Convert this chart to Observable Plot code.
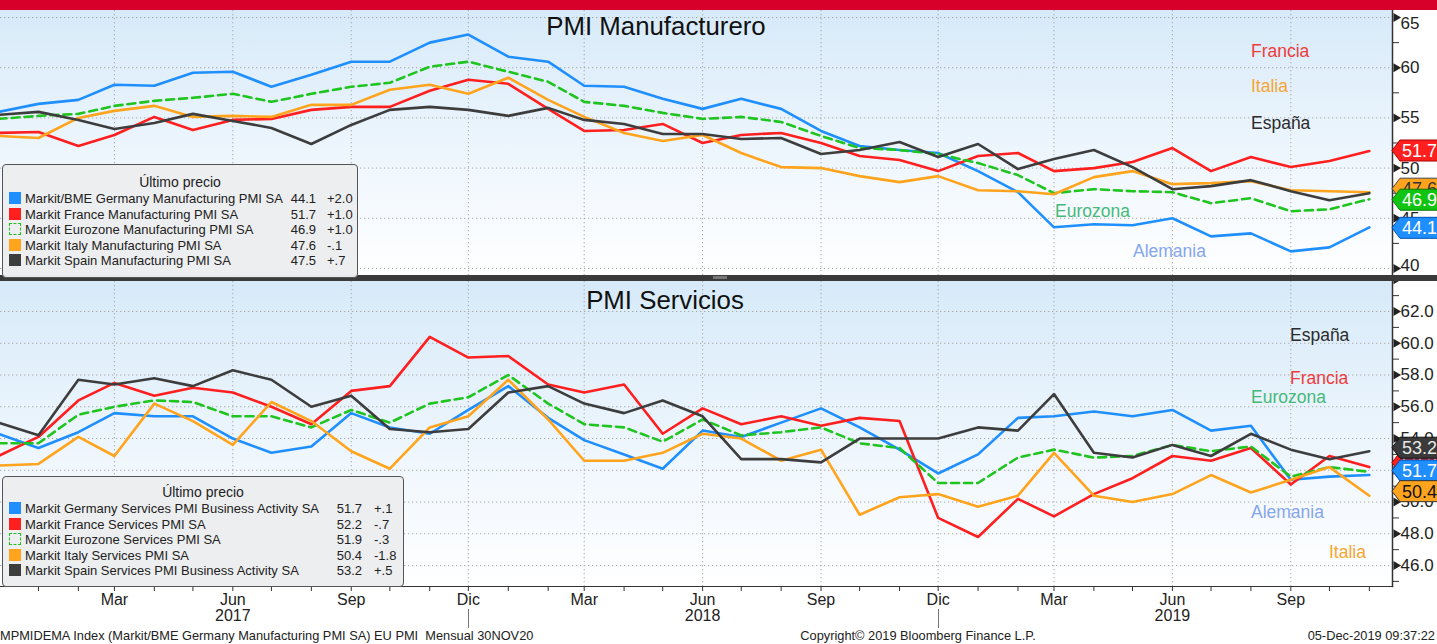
<!DOCTYPE html>
<html><head><meta charset="utf-8">
<script src="https://cdn.jsdelivr.net/npm/d3@7"></script>
<script src="https://cdn.jsdelivr.net/npm/@observablehq/plot@0.6"></script>
<style>
body{margin:0;background:#fff;}
#root{position:relative;width:1437px;height:644px;overflow:hidden;background:#fff;font-family:"Liberation Sans",Arial,sans-serif;color:#222;}
#root > *{position:absolute;}
.lbl{font-size:17.5px;white-space:nowrap;line-height:1;transform:translateY(-50%);}
.title{font-size:25.8px;white-space:nowrap;line-height:1;transform:translate(-50%,-50%);color:#111;}
.legend{background:rgba(236,237,238,0.97);border:1.5px solid #555;border-radius:4px;box-sizing:border-box;}
.legend div{position:absolute;white-space:nowrap;line-height:1;transform:translateY(-50%);font-size:13px;color:#222;}
.sw{width:12px;height:12px;box-sizing:border-box;}
.foot{font-size:12.8px;white-space:nowrap;line-height:1;color:#222;font-family:"Liberation Sans Narrow","Liberation Sans",Arial,sans-serif;}
</style></head><body><div id="root"></div>
<script>
// ---------- data ----------
const months = ["2016-12","2017-01","2017-02","2017-03","2017-04","2017-05","2017-06","2017-07","2017-08","2017-09","2017-10","2017-11","2017-12",
"2018-01","2018-02","2018-03","2018-04","2018-05","2018-06","2018-07","2018-08","2018-09","2018-10","2018-11","2018-12",
"2019-01","2019-02","2019-03","2019-04","2019-05","2019-06","2019-07","2019-08","2019-09","2019-10","2019-11"];
const monthNames = ["Ene","Feb","Mar","Abr","May","Jun","Jul","Ago","Sep","Oct","Nov","Dic"];

// PMI Manufacturero
const mfgGermany = [55.6,56.4,56.8,58.3,58.2,59.5,59.6,58.1,59.3,60.6,60.6,62.5,63.3,61.1,60.6,58.2,58.1,56.9,55.9,56.9,55.9,53.7,52.2,51.8,51.5,49.7,47.6,44.1,44.4,44.3,45.0,43.2,43.5,41.7,42.1,44.1];
const mfgFrance  = [53.5,53.6,52.2,53.3,55.1,53.8,54.8,54.9,55.8,56.1,56.1,57.7,58.8,58.4,55.9,53.7,53.8,54.4,52.5,53.3,53.5,52.5,51.2,50.8,49.7,51.2,51.5,49.7,50.0,50.6,52.0,49.7,51.1,50.1,50.7,51.7];
const mfgEurozone= [54.9,55.2,55.4,56.2,56.7,57.0,57.4,56.6,57.4,58.1,58.5,60.1,60.6,59.6,58.6,56.6,56.2,55.5,54.9,55.1,54.6,53.2,52.0,51.8,51.4,50.5,49.3,47.5,47.9,47.7,47.6,46.5,47.0,45.7,45.9,46.9];
const mfgItaly   = [53.2,53.0,55.0,55.7,56.2,55.1,55.2,55.1,56.3,56.3,57.8,58.3,57.4,59.0,56.8,55.1,53.5,52.7,53.3,51.5,50.1,50.0,49.2,48.6,49.2,47.8,47.7,47.4,49.1,49.7,48.4,48.5,48.7,47.8,47.7,47.6];
const mfgSpain   = [55.3,55.6,54.8,53.9,54.5,55.4,54.7,54.0,52.4,54.3,55.8,56.1,55.8,55.2,56.0,54.8,54.4,53.4,53.4,52.9,53.0,51.4,51.8,52.6,51.1,52.4,49.9,50.9,51.8,50.1,47.9,48.2,48.8,47.7,46.8,47.5];

// PMI Servicios
const svcGermany = [54.3,53.4,54.4,55.6,55.4,55.4,54.0,53.1,53.5,55.6,54.7,54.3,55.8,57.3,55.3,53.9,53.0,52.1,54.5,54.1,55.0,55.9,54.7,53.3,51.8,53.0,55.3,55.4,55.7,55.4,55.8,54.5,54.8,51.4,51.6,51.7];
const svcFrance  = [52.9,54.1,56.4,57.5,56.7,57.2,56.9,56.0,54.9,57.0,57.3,60.4,59.1,59.2,57.4,56.9,57.4,54.3,55.9,54.9,55.4,54.8,55.3,55.1,49.0,47.8,50.2,49.1,50.5,51.5,52.9,52.6,53.4,51.1,52.9,52.2];
const svcEurozone= [53.7,53.7,55.5,56.0,56.4,56.3,55.4,55.4,54.7,55.8,55.0,56.2,56.6,58.0,56.2,54.9,54.7,53.8,55.2,54.2,54.4,54.7,53.7,53.4,51.2,51.2,52.8,53.3,52.8,52.9,53.6,53.2,53.5,51.6,52.2,51.9];
const svcItaly   = [52.3,52.4,54.1,52.9,56.2,55.1,53.6,56.3,55.1,53.2,52.1,54.7,55.4,57.7,55.2,52.6,52.6,53.1,54.3,54.0,52.6,53.3,49.2,50.3,50.5,49.7,50.4,53.1,50.4,50.0,50.5,51.7,50.6,51.4,52.2,50.4];
const svcSpain   = [55.0,54.2,57.7,57.4,57.8,57.3,58.3,57.7,56.0,56.7,54.6,54.4,54.6,56.9,57.3,56.2,55.6,56.4,55.4,52.7,52.7,52.5,54.0,54.0,54.0,54.7,54.5,56.8,53.1,52.8,53.6,52.9,54.3,53.3,52.7,53.2];

const mfgNames = ["Markit/BME Germany Manufacturing PMI SA","Markit France Manufacturing PMI SA","Markit Eurozone Manufacturing PMI SA","Markit Italy Manufacturing PMI SA","Markit Spain Manufacturing PMI SA"];
const svcNames = ["Markit Germany Services PMI Business Activity SA","Markit France Services PMI SA","Markit Eurozone Services PMI SA","Markit Italy Services PMI SA","Markit Spain Services PMI Business Activity SA"];

const topTicks = [40,45,50,55,60,65];
const topMinorTicks = [42.5,47.5,52.5,57.5,62.5];
const botTicks = [46,48,50,52,54,56,58,60,62,64];
const botMinorTicks = [45,47,49,51,53,55,57,59,61,63];

// ---------- styles ----------
const colors = {de:"#1f8fff", fr:"#ff1f1f", ez:"#1fc41f", it:"#ffa41c", es:"#3d3d3d"};
const W = 1437, MR = 45;
const parse = m => new Date(m + "-01T00:00:00Z");
const dates = months.map(parse);
const xDomain = [new Date("2016-12-02T12:00:00Z"), new Date("2019-11-19T00:00:00Z")];
const inView = dates.filter(d => d >= xDomain[0]);
const quarterDates = inView.filter(d => d.getUTCMonth() % 3 === 2);
const junDates = inView.filter(d => d.getUTCMonth() === 5);
const decDates = inView.filter(d => d.getUTCMonth() === 11);

function makeSeries(arrs, names) {
  const keys = ["de","fr","ez","it","es"];
  return arrs.map((a, k) => ({key: keys[k], name: names[k], color: colors[keys[k]], dash: keys[k]==="ez",
    rows: a.map((v, i) => ({date: dates[i], value: v}))}));
}
const topSeries = makeSeries([mfgGermany,mfgFrance,mfgEurozone,mfgItaly,mfgSpain], mfgNames);
const botSeries = makeSeries([svcGermany,svcFrance,svcEurozone,svcItaly,svcSpain], svcNames);

const grid = {stroke:"#a9a9a9", strokeDasharray:"1.3,2.7", strokeWidth:1};
const lineMarks = S => S.map(s => Plot.line(s.rows, {x:"date", y:"value", stroke:s.color, strokeWidth:2.6,
  strokeDasharray: s.dash ? "8,5" : null}));

function yAxisMarks(major, minor, fmt) {
  return [
    Plot.frame({anchor:"right", stroke:"#333", strokeWidth:1.5}),
    Plot.axisY(minor, {anchor:"right", tickSize:6, tickFormat:() => "", stroke:"#333", label:null}),
    Plot.dot(major, {y:d => d, frameAnchor:"right", symbol:"triangle", rotate:90, r:3.3, fill:"#222", stroke:null, dx:3.5}),
    Plot.axisY(major, {anchor:"right", tickSize:0, tickPadding:8, fontSize:17, tickFormat:fmt, fill:"#222", label:null})
  ];
}

const root = document.getElementById("root");
function add(tag, cls, style, html) {
  const e = document.createElement(tag);
  if (cls) e.className = cls;
  Object.assign(e.style, style);
  if (html != null) e.innerHTML = html;
  root.appendChild(e);
  return e;
}

// panel backgrounds
const grad = "linear-gradient(to bottom, #d7eaf9 0%, #eef6fd 55%, #ffffff 100%)";
add("div", null, {left:"0px", top:"10px", width:(W-MR)+"px", height:"266px", background:grad});
add("div", null, {left:"0px", top:"281px", width:(W-MR)+"px", height:"305px", background:grad});

// ---------- top plot ----------
const topInner = topTicks.filter(d => d > 40 && d < 65);
const topEdges = [{v:65, dy:6}, {v:40, dy:-3}];
const topPlot = Plot.plot({
  width: W, height: 266, marginLeft: 0, marginRight: MR, marginTop: 0, marginBottom: 0,
  x: {type:"utc", domain: xDomain, axis: null},
  y: {domain: [39.2, 65.7]},
  style: {background:"transparent", fontFamily:"'Liberation Sans', Arial, sans-serif", color:"#222"},
  marks: [
    Plot.ruleX(quarterDates, grid),
    Plot.ruleY(topTicks, grid),
    ...lineMarks(topSeries),
    ...yAxisMarks(topTicks, topMinorTicks, d => (d === 65 || d === 40) ? "" : String(d)),
    ...topEdges.map(e => Plot.axisY([e.v], {anchor:"right", tickSize:0, tickPadding:8, fontSize:17, fill:"#222", dy:e.dy, label:null}))
  ]
});
topPlot.style.left = "0px"; topPlot.style.top = "10px";
root.appendChild(topPlot);

// ---------- bottom plot ----------
const botPlot = Plot.plot({
  width: W, height: 348, marginLeft: 0, marginRight: MR, marginTop: 1, marginBottom: 42,
  x: {type:"utc", domain: xDomain},
  y: {domain: [44.68, 63.89]},
  style: {background:"transparent", fontFamily:"'Liberation Sans', Arial, sans-serif", color:"#222"},
  marks: [
    Plot.ruleX(quarterDates, grid),
    Plot.ruleY(botTicks, grid),
    ...lineMarks(botSeries),
    ...yAxisMarks(botTicks, botMinorTicks, d => d >= 63 ? "" : d.toFixed(1)),
    Plot.frame({anchor:"bottom", stroke:"#333", strokeWidth:1.2}),
    Plot.axisX(inView, {anchor:"bottom", tickSize:5, tickPadding:2, fontSize:16, fill:"#222", stroke:"#333", label:null,
      tickFormat: d => d.getUTCMonth() % 3 === 2 ? monthNames[d.getUTCMonth()] : ""}),
    Plot.axisX(junDates, {anchor:"bottom", tickSize:0, tickPadding:23, fontSize:16, fill:"#222", label:null,
      tickFormat: d => String(d.getUTCFullYear())})
  ]
});
botPlot.style.left = "0px"; botPlot.style.top = "280px";
root.appendChild(botPlot);

// year separators below "Dic"
{
  const sx = botPlot.scale("x");
  const g = d3.select(botPlot).append("g").attr("stroke", "#777").attr("stroke-width", 1);
  decDates.forEach(d => { const x = Math.round(sx.apply(d)) + 0.5;
    g.append("line").attr("x1", x).attr("x2", x).attr("y1", 329).attr("y2", 348); });
}

// value badges on the right axis
function badges(plot, specs) {
  const sy = plot.scale("y");
  const x0 = W - MR;
  const g = d3.select(plot).append("g").attr("text-anchor", "start");
  specs.forEach(s => {
    const cy = sy.apply(s.value) + (s.nudge || 0);
    g.append("polygon")
      .attr("points", `${x0},${cy} ${x0+8},${cy-10.5} ${x0+70},${cy-10.5} ${x0+70},${cy+10.5} ${x0+8},${cy+10.5}`)
      .attr("fill", s.fill).attr("stroke", s.stroke).attr("stroke-width", 1);
    g.append("text").attr("x", x0 + 10).attr("y", cy).attr("dy", "0.36em").attr("text-anchor", "start")
      .attr("font-size", 18).attr("fill", s.text).text(s.value.toFixed(1));
  });
}
const last = a => a[a.length - 1];
badges(topPlot, [
  {value:last(mfgFrance), fill:colors.fr, stroke:"#b00000", text:"#fff"},
  {value:last(mfgItaly), fill:colors.it, stroke:"#444", text:"#333", nudge:-3},
  {value:last(mfgEurozone), fill:"#12c412", stroke:"#0a7a0a", text:"#fff", nudge:1},
  {value:last(mfgGermany), fill:colors.de, stroke:"#0050b0", text:"#fff", nudge:1}
]);
badges(botPlot, [
  {value:last(svcFrance), fill:colors.fr, stroke:"#b00000", text:"#fff", nudge:-4},
  {value:last(svcSpain), fill:"#3a3a3a", stroke:"#111", text:"#e8e8e8", nudge:-3},
  {value:last(svcGermany), fill:colors.de, stroke:"#0050b0", text:"#fff", nudge:-4},
  {value:last(svcItaly), fill:colors.it, stroke:"#333", text:"#111", nudge:-4}
]);

// top red band & separator
add("div", null, {left:"0px", top:"0px", width:W+"px", height:"10px", background:"#d6002a"});
add("div", null, {left:"0px", top:"275px", width:W+"px", height:"6px", background:"#3a3a3a"});
add("div", null, {left:"713px", top:"276px", width:"14px", height:"3px", background:"#777"});

// titles
add("div", "title", {left:"656px", top:"27px"}, "PMI Manufacturero");
add("div", "title", {left:"665px", top:"301px"}, "PMI Servicios");

// series labels
const labelColors = {fr:"#ef3b3b", it:"#f7a531", es:"#2b2b2b", ez:"#45b97a", de:"#85a6ee"};
[["Francia","fr",1251,52],["Italia","it",1251,87],["España","es",1251,124],["Eurozona","ez",1055,212],["Alemania","de",1133,252],
 ["España","es",1290,336],["Francia","fr",1290,379],["Eurozona","ez",1251,398],["Alemania","de",1251,513],["Italia","it",1329,553]]
 .forEach(([t,k,x,y]) => add("div","lbl",{left:x+"px", top:y+"px", color:labelColors[k]}, t));

// legends
function fmtChg(d) {
  const s = d >= 0 ? "+" : "-";
  let a = Math.abs(d).toFixed(1);
  if (a.startsWith("0")) a = a.slice(1);
  return s + a;
}
function legend(series, box, valRight, chgLeft) {
  const b = add("div", "legend", {left:box.left+"px", top:box.top+"px", width:box.width+"px", height:box.height+"px"});
  const t = document.createElement("div");
  Object.assign(t.style, {left:"0px", width:"100%", textAlign:"center", top:box.titleY+"px", fontSize:"14px"});
  t.textContent = "Último precio";
  b.appendChild(t);
  series.forEach((s, i) => {
    const y = box.rowY + i * 15.6;
    const vals = s.rows.map(r => r.value);
    const v = last(vals), prev = vals[vals.length - 2];
    const sw = document.createElement("div");
    sw.className = "sw";
    Object.assign(sw.style, {left:"6px", top:y+"px"});
    if (s.dash) { sw.style.border = "1.6px dashed " + s.color; sw.style.background = "transparent"; }
    else sw.style.background = s.color;
    b.appendChild(sw);
    const n = document.createElement("div");
    Object.assign(n.style, {left:"22px", top:y+"px"}); n.textContent = s.name; b.appendChild(n);
    const vv = document.createElement("div");
    Object.assign(vv.style, {right:(box.width - valRight)+"px", top:y+"px"}); vv.textContent = v.toFixed(1); b.appendChild(vv);
    const c = document.createElement("div");
    Object.assign(c.style, {left:chgLeft+"px", top:y+"px"}); c.textContent = fmtChg(v - prev); b.appendChild(c);
  });
}
legend(topSeries, {left:2, top:164, width:356, height:114, titleY:17, rowY:33}, 315, 324);
legend(botSeries, {left:2, top:476, width:402, height:111, titleY:15, rowY:31}, 361, 371);

// footer
add("div", "foot", {left:"0px", top:"630px"}, "MPMIDEMA Index (Markit/BME Germany Manufacturing PMI SA) EU PMI&nbsp; Mensual 30NOV20");
add("div", "foot", {left:"918px", top:"630px", transform:"translateX(-50%)"}, "Copyright© 2019 Bloomberg Finance L.P.");
add("div", "foot", {right:"2px", top:"630px"}, "05-Dec-2019 09:37:22");
</script></body></html>
